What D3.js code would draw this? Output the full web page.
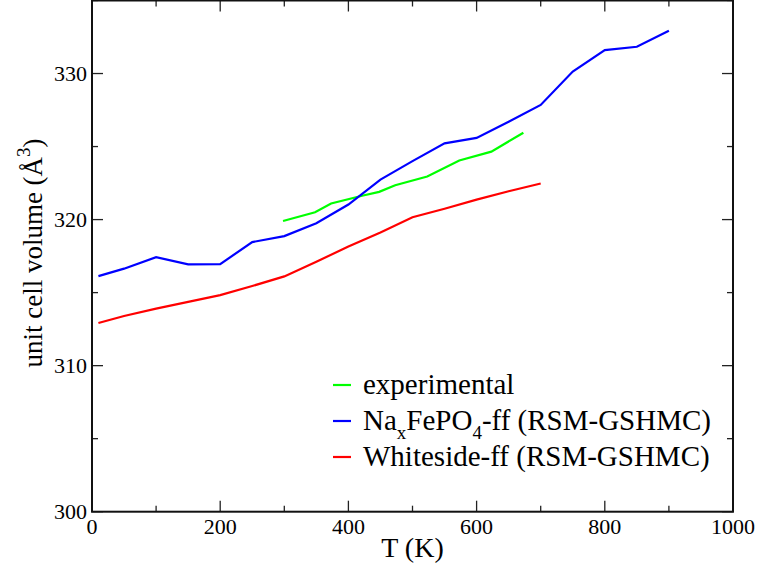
<!DOCTYPE html>
<html><head><meta charset="utf-8">
<script src="https://cdn.jsdelivr.net/npm/d3@7"></script>
<style>body{margin:0;background:#fff}svg{display:block}</style>
</head><body><svg id="c" width="758" height="567" font-family="'Liberation Serif', 'DejaVu Serif', serif"></svg>
<script>
const expT = [298, 348, 373, 423, 448, 473, 523, 573, 623, 673];
const expV = [319.9, 320.5, 321.1, 321.65, 321.9, 322.35, 322.95, 324.05, 324.65, 325.95];
const naT = [10, 50, 100, 150, 200, 250, 300, 350, 400, 450, 500, 550, 600, 650, 700, 750, 800, 850, 900];
const naV = [316.13, 316.64, 317.43, 316.93, 316.95, 318.46, 318.87, 319.75, 321.03, 322.74, 324.0, 325.22, 325.59, 326.7, 327.85, 330.14, 331.6, 331.83, 332.93];
const whT = [10, 50, 100, 150, 200, 250, 300, 350, 400, 450, 500, 550, 600, 650, 700];
const whV = [312.92, 313.4, 313.9, 314.37, 314.83, 315.45, 316.11, 317.11, 318.16, 319.12, 320.16, 320.74, 321.37, 321.94, 322.47];
const xTicks = [0, 200, 400, 600, 800, 1000];
const yTicks = [300, 310, 320, 330];
const seriesNames = ["experimental", "NaxFePO4-ff (RSM-GSHMC)", "Whiteside-ff (RSM-GSHMC)"];
const seriesColors = ["#00ff00", "#0000ff", "#ff0000"];

const svg = d3.select("#c");
const L = 92, R = 733, T = 0.5, B = 511.7;
const x = d3.scaleLinear().domain([0, 1000]).range([L, R]);
const y = d3.scaleLinear().domain([300, 335]).range([B, T]);

// ticks (inward, all four sides)
const g = svg.append("g");
const xMinor = d3.range(0, 1001, 100), yMinor = d3.range(300, 336, 5);
function tickLen(v, majors){ return majors.includes(v) ? 11 : 6; }
xMinor.forEach(v => {
  const l = tickLen(v, xTicks);
  g.append("line").attr("x1", x(v)).attr("x2", x(v)).attr("y1", B).attr("y2", B - l).attr("stroke", "#222").attr("stroke-width", 1.3);
  g.append("line").attr("x1", x(v)).attr("x2", x(v)).attr("y1", T).attr("y2", T + l).attr("stroke", "#222").attr("stroke-width", 1.3);
});
yMinor.forEach(v => {
  const l = tickLen(v, yTicks);
  g.append("line").attr("y1", y(v)).attr("y2", y(v)).attr("x1", L).attr("x2", L + l).attr("stroke", "#222").attr("stroke-width", 1.3);
  g.append("line").attr("y1", y(v)).attr("y2", y(v)).attr("x1", R).attr("x2", R - l).attr("stroke", "#222").attr("stroke-width", 1.3);
});
svg.append("rect").attr("x", L).attr("y", T).attr("width", R - L).attr("height", B - T)
  .attr("fill", "none").attr("stroke", "#111").attr("stroke-width", 2);

// tick labels
xTicks.forEach(v => svg.append("text").attr("x", x(v)).attr("y", 534).attr("text-anchor", "middle")
  .attr("font-size", 22).text(v));
yTicks.forEach(v => svg.append("text").attr("x", 87).attr("y", y(v) + 7.5).attr("text-anchor", "end")
  .attr("font-size", 22).text(v));

// axis titles
svg.append("text").attr("x", x(500)).attr("y", 557).attr("text-anchor", "middle").attr("font-size", 28).text("T (K)");
const yl = svg.append("text").attr("transform", "translate(42,253) rotate(-90)").attr("text-anchor", "middle").attr("font-size", 27);
yl.append("tspan").text("unit cell volume (Å");
yl.append("tspan").attr("font-size", 19).attr("dy", -12).text("3");
yl.append("tspan").attr("dy", 12).text(")");

// lines
const line = d3.line().x(d => x(d[0])).y(d => y(d[1]));
const data = [d3.zip(expT, expV), d3.zip(naT, naV), d3.zip(whT, whV)];
data.forEach((d, i) => svg.append("path").datum(d).attr("d", line).attr("fill", "none")
  .attr("stroke", seriesColors[i]).attr("stroke-width", 2.2).attr("stroke-linejoin", "miter"));

// legend
const ly = [385, 421, 457];
ly.forEach((yy, i) => {
  svg.append("line").attr("x1", 333).attr("x2", 351).attr("y1", yy).attr("y2", yy)
    .attr("stroke", seriesColors[i]).attr("stroke-width", 2.2);
  const t = svg.append("text").attr("x", 363).attr("y", yy + 8.5).attr("font-size", 29);
  if (i === 1) {
    t.append("tspan").text("Na");
    t.append("tspan").attr("font-size", 19).attr("dy", 9).text("x");
    t.append("tspan").attr("dy", -9).text("FePO");
    t.append("tspan").attr("font-size", 19).attr("dy", 9).text("4");
    t.append("tspan").attr("dy", -9).text("-ff (RSM-GSHMC)");
  } else {
    t.text(seriesNames[i]);
  }
});
</script></body></html>
